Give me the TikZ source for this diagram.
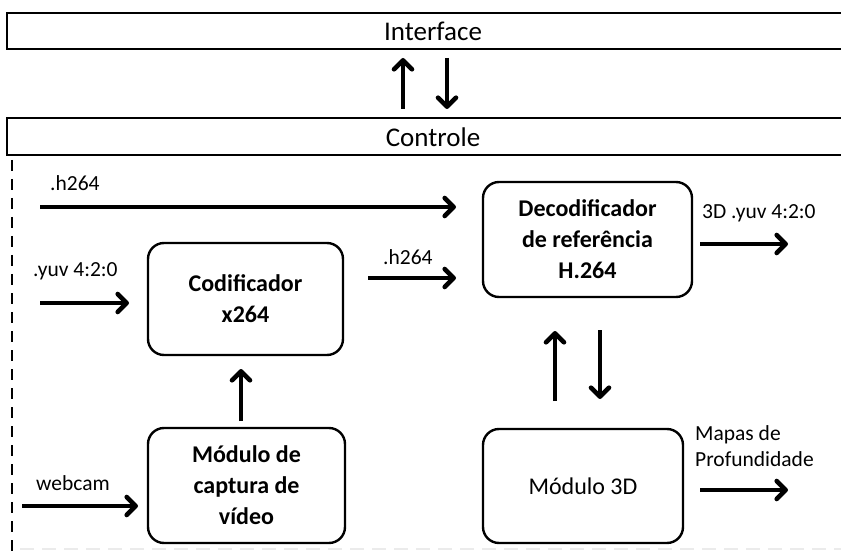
\documentclass[tikz,border=0pt]{standalone}
\usepackage{fontspec}
\setmainfont{Carlito}
\usetikzlibrary{arrows.meta}
\begin{document}
\begin{tikzpicture}[x=1pt,y=-1pt,
  band/.style={draw,line width=2.4pt},
  block/.style={draw,line width=2.4pt,rounded corners=16pt,align=center,
    font=\fontsize{24}{31}\selectfont\bfseries,inner sep=0pt},
  lbl/.style={anchor=west,font=\fontsize{21.5}{26}\selectfont,inner sep=0pt,align=left},
  flow/.style={line width=3.5pt,-{Straight Barb[length=9pt,width=18pt,line width=4.6pt,line cap=round,line join=round]}}]
\useasboundingbox (0,0) rectangle (841,556);
\clip (0,0) rectangle (841,556);

% layers
\draw[band] (7,13) rectangle (870,49);
\node[font=\fontsize{27}{30}\selectfont] (iface) at (433,31) {Interface};
\draw[band] (7,118) rectangle (870,155);
\node[font=\fontsize{27}{30}\selectfont] (ctrl) at (433,137) {Controle};

% dashed frame of the control layer
\draw[line width=2.4pt,dash pattern=on 11pt off 8pt] (12,160) -- (12,556);
\draw[black!8,line width=1.5pt,dash pattern=on 14pt off 8pt] (20,549) -- (841,549);

% control arrows
\coordinate (ia1) at (403,109);
\coordinate (ia2) at (403,58);
\coordinate (ib1) at (447,58);
\coordinate (ib2) at (447,109);
\draw[flow] (ia1) -- (ia2);
\draw[flow] (ib1) -- (ib2);

% blocks
\node[block,minimum width=195pt,minimum height=112pt] (cod) at (245.5,299) {Codificador\\x264};
\node[block,minimum width=209pt,minimum height=115pt] (dec) at (587.5,239.5) {Decodificador\\de referência\\H.264};
\node[block,minimum width=197pt,minimum height=115pt] (cap) at (246.5,485.5) {Módulo de\\captura de\\vídeo};
\node[block,minimum width=200pt,minimum height=114pt,font=\fontsize{24}{31}\selectfont] (m3d) at (583,486) {Módulo 3D};

% inputs and outputs
\coordinate (inh) at (40,207);
\coordinate (inhend) at (456,207);
\draw[flow] (inh) -- (inhend);
\node[lbl] (lh1) at (50,183) {.h264};

\coordinate (inyuv) at (40,303);
\coordinate (inyuvend) at (129,303);
\draw[flow] (inyuv) -- (inyuvend);
\node[lbl] (lyuv) at (33,271) {.yuv 4:2:0};

\coordinate (codout) at (368,278);
\coordinate (decin) at (456,278);
\draw[flow] (codout) -- (decin);
\node[lbl] (lh2) at (383,257) {.h264};

\coordinate (decout) at (700,244);
\coordinate (decoutend) at (788,244);
\draw[flow] (decout) -- (decoutend);
\node[lbl] (l3d) at (702,213) {3D .yuv 4:2:0};

\coordinate (webin) at (22,506);
\coordinate (webend) at (138,506);
\draw[flow] (webin) -- (webend);
\node[lbl] (lweb) at (36,483) {webcam};

\coordinate (capup) at (241,421);
\coordinate (codbot) at (241,369);
\draw[flow] (capup) -- (codbot);

\coordinate (ua) at (555,401);
\coordinate (ub) at (555,331);
\coordinate (da) at (600,330);
\coordinate (db) at (600,399);
\draw[flow] (ua) -- (ub);
\draw[flow] (da) -- (db);

\coordinate (mout) at (700,490);
\coordinate (moutend) at (788,490);
\draw[flow] (mout) -- (moutend);
\node[lbl] (lmap) at (695,446) {Mapas de\\Profundidade};
\end{tikzpicture}
\end{document}
